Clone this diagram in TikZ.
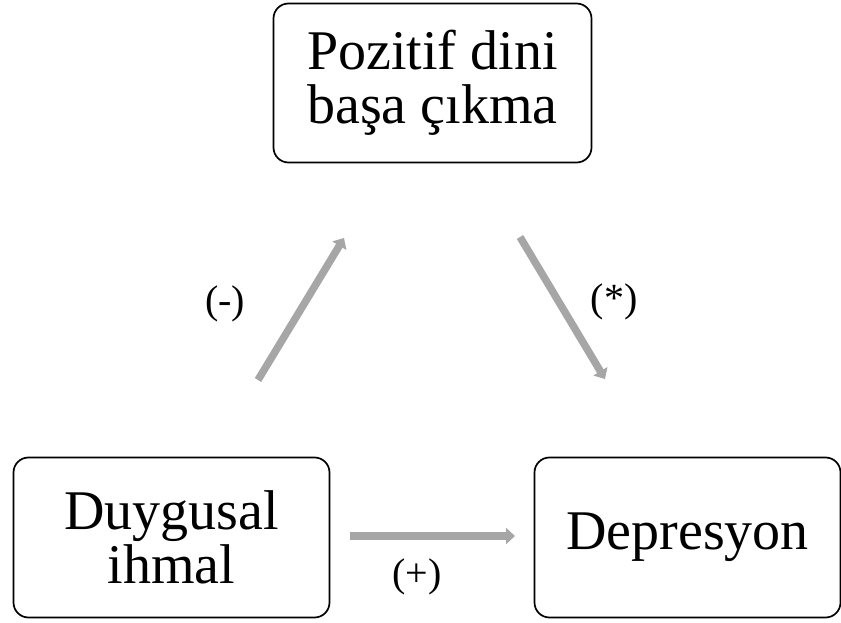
\documentclass[tikz,border=0pt]{standalone}
\usepackage{fontspec}
\setmainfont{Liberation Serif}
\usetikzlibrary{arrows.meta}

\tikzset{
  varbox/.style={draw=black, line width=1.7pt, rounded corners=15pt, align=center,
    font=\fontsize{56}{54}\selectfont},
  effect/.style={draw=black!35, line width=7.5pt, -{Triangle[length=9pt,width=16pt]}},
  sign/.style={font=\fontsize{40}{40}\selectfont}
}

\begin{document}
\begin{tikzpicture}[x=1pt,y=-1pt]
\useasboundingbox (0,0) rectangle (841,623);

% Variables
\node[varbox, minimum width=318pt, minimum height=159pt] (pdbc) at (432.5,83) {Pozitif dini\\başa çıkma};
\node[varbox, minimum width=316pt, minimum height=160pt] (dih) at (171.5,537.5) {Duygusal\\ihmal};
\node[varbox, minimum width=306pt, minimum height=160pt] (dep) at (687.5,537.5) {Depresyon};

% Arrow ends
\coordinate (a1) at (258,380);
\coordinate (a2) at (344,238);
\coordinate (b1) at (520,237);
\coordinate (b2) at (605,379);
\coordinate (c1) at (350,536);
\coordinate (c2) at (515,536);

% Paths
\draw[effect] (a1) -- (a2);
\draw[effect] (b1) -- (b2);
\draw[effect] (c1) -- (c2);

% Signs
\node[sign] (sa) at (225,304) {(-)};
\node[sign] (sb) at (614,302) {(*)};
\node[sign] (sc) at (417,577) {(+)};

\end{tikzpicture}
\end{document}
